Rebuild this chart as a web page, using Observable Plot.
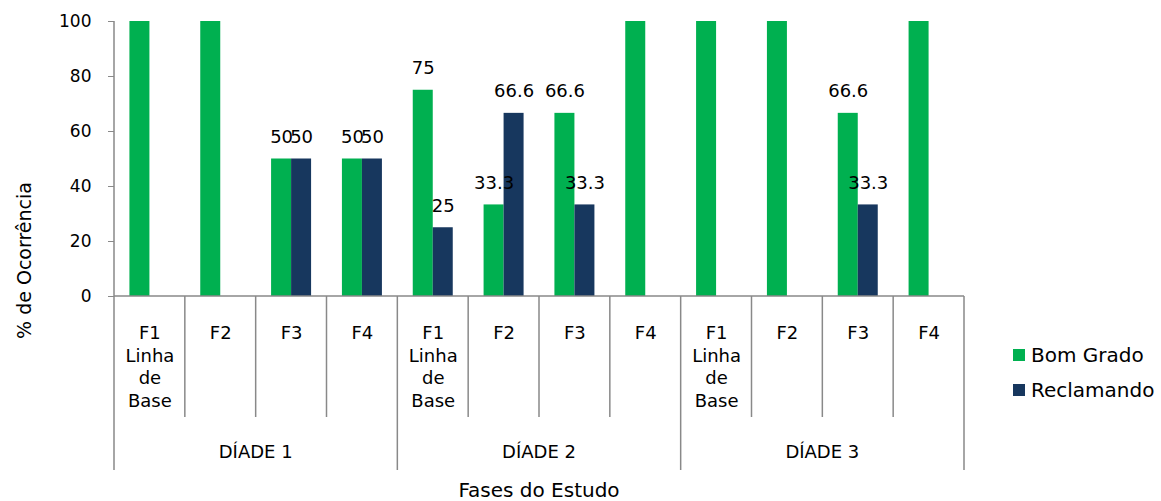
<!DOCTYPE html>
<html><head><meta charset="utf-8">
<script src="https://cdn.jsdelivr.net/npm/d3@7"></script>
<script src="https://cdn.jsdelivr.net/npm/@observablehq/plot@0.6"></script>
<style>
body{margin:0;background:#fff;font-family:"DejaVu Sans",Verdana,sans-serif;}
#wrap{position:relative;width:1161px;height:501px;}
.leg{position:absolute;left:1013px;font-size:20px;color:#000;display:flex;align-items:center;white-space:nowrap;}
.leg span.sw{display:inline-block;width:12px;height:12px;margin-right:6px;}
</style></head>
<body><div id="wrap"></div>
<script>
const diades = ["DÍADE 1", "DÍADE 2", "DÍADE 3"];
const fases = ["F1\nLinha\nde\nBase", "F2", "F3", "F4"];
const seriesNames = ["Bom Grado", "Reclamando"];
const bomGrado   = [100, 100, 50, 50,  75, 33.3, 66.6, 100,  100, 100, 66.6, 100];
const reclamando = [0,   0,   50, 50,  25, 66.6, 33.3, 0,    0,   0,   33.3, 0];
const yTicks = [0, 20, 40, 60, 80, 100];
const colors = ["#00B050", "#17375E"];
const xTitle = "Fases do Estudo";
const yTitle = "% de Ocorrência";

const W = 1161, H = 501, ML = 114, MR = 197, MT = 21, MB = 205;
const step = (W - ML - MR) / (diades.length * fases.length);
const barW = 20;

const cats = [];
diades.forEach((d, i) => fases.forEach((f, j) => cats.push({key: d + "|" + j, diade: d, fase: f, idx: i * fases.length + j})));
const keys = cats.map(c => c.key);
const bgRows = cats.map(c => ({key: c.key, value: bomGrado[c.idx]}));
const rcRows = cats.map(c => ({key: c.key, value: reclamando[c.idx]}));
const showLabel = r => r.value > 0 && r.value < 100;

const table = (index, scales, values, dims) => {
  const x = scales.x, y = scales.y;
  const g = d3.create("svg:g");
  const y0 = y(0), y1 = y(100);
  const x0 = x(keys[0]), xEnd = x(keys[keys.length - 1]) + step;
  const lines = g.append("g").attr("stroke", "#898989").attr("stroke-width", 1.5).attr("fill", "none");
  lines.append("line").attr("x1", x0).attr("x2", x0).attr("y1", y1).attr("y2", y0);
  lines.append("line").attr("x1", x0).attr("x2", xEnd).attr("y1", y0).attr("y2", y0);
  for (let i = 0; i <= keys.length; i++) {
    const xx = i < keys.length ? x(keys[i]) : xEnd;
    const outer = i % fases.length === 0;
    lines.append("line").attr("x1", xx).attr("x2", xx).attr("y1", y0).attr("y2", y0 + (outer ? 174 : 121));
  }
  const txt = g.append("g").attr("fill", "#000").attr("text-anchor", "middle");
  diades.forEach((d, i) => {
    const a = x(keys[i * fases.length]), b = x(keys[i * fases.length + fases.length - 1]) + step;
    txt.append("text").attr("x", (a + b) / 2).attr("y", y0 + 162).attr("font-size", 18).text(d);
  });
  txt.append("text").attr("x", (x0 + xEnd) / 2).attr("y", H - 4).attr("font-size", 20).text(xTitle);
  txt.append("text").attr("transform", `translate(31,${(y0 + y1) / 2 + 102}) rotate(-90)`).attr("font-size", 19).text(yTitle);
  return g.node();
};

const chart = Plot.plot({
  width: W, height: H,
  marginLeft: ML, marginRight: MR, marginTop: MT, marginBottom: MB,
  style: {fontFamily: "DejaVu Sans, Verdana, sans-serif", fontSize: "18px", background: "#fff", color: "#000", overflow: "visible"},
  x: {type: "band", domain: keys, padding: 0, round: false, axis: null},
  y: {domain: [0, 100], axis: null},
  marks: [
    Plot.barY(bgRows.filter(r => r.value > 0), {x: "key", y: "value", fill: colors[0], insetLeft: step / 2 - barW, insetRight: step / 2}),
    Plot.barY(rcRows.filter(r => r.value > 0), {x: "key", y: "value", fill: colors[1], insetLeft: step / 2, insetRight: step / 2 - barW}),
    Plot.text(bgRows.filter(showLabel), {x: "key", y: "value", text: d => String(d.value), dx: -barW / 2, dy: -16, lineAnchor: "bottom", fill: "#000"}),
    Plot.text(rcRows.filter(showLabel), {x: "key", y: "value", text: d => String(d.value), dx: barW / 2, dy: -16, lineAnchor: "bottom", fill: "#000"}),
    Plot.axisY({ticks: yTicks, tickSize: 6, tickPadding: 17, stroke: "#898989", fill: "#000", fontSize: 17, label: null}),
    Plot.text(cats, {x: "key", text: "fase", frameAnchor: "bottom", dy: 27, lineAnchor: "top", lineHeight: 1.25, fill: "#000"}),
    table
  ]
});
const wrap = document.getElementById("wrap");
wrap.appendChild(chart);
const legTops = [349, 384];
seriesNames.forEach((s, i) => {
  const el = document.createElement("div");
  el.className = "leg";
  el.style.top = (legTops[i] - 6) + "px";
  el.innerHTML = `<span class="sw" style="background:${colors[i]}"></span><span>${s}</span>`;
  wrap.appendChild(el);
});
</script>
</body></html>
